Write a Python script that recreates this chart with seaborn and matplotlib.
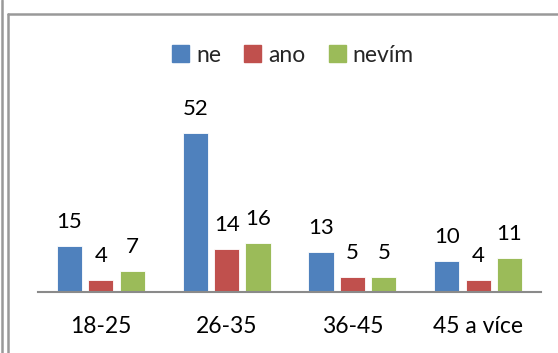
import matplotlib
matplotlib.use("Agg")
import matplotlib.pyplot as plt
from matplotlib.lines import Line2D
import seaborn as sns
import pandas as pd

categories = ["18-25", "26-35", "36-45", "45 a více"]
series = ["ne", "ano", "nevím"]
ne = [15, 52, 13, 10]
ano = [4, 14, 5, 4]
nevim = [7, 16, 5, 11]
colors = ["#4F81BD", "#C0504D", "#9BBB59"]

df = pd.DataFrame({
    "kategorie": categories * 3,
    "odpoved": [s for s in series for _ in categories],
    "pocet": ne + ano + nevim,
})

sns.set_theme(style="white")
plt.rcParams["font.family"] = ["Lato", "DejaVu Sans"]

W, H = 558, 353
fig = plt.figure(figsize=(W / 100, H / 100), dpi=100)
ax = fig.add_axes([38 / W, 61 / H, (541 - 38) / W, (292 - 108) / H])

sns.barplot(data=df, x="kategorie", y="pocet", hue="odpoved",
            palette=colors, saturation=1, width=0.75, gap=0.2, dodge=True,
            edgecolor="white", linewidth=0.6, ax=ax, legend=False)

ax.set_ylim(0, 60)
ax.set_xlim(-0.5, 3.5)
for cont in ax.containers:
    ax.bar_label(cont, fmt="%d", padding=10, fontsize=16, color="black")

ax.set_xlabel("")
ax.set_ylabel("")
ax.set_yticks([])
ax.tick_params(axis="x", length=0, pad=17, labelsize=16.5, labelcolor="black")
for side in ["top", "left", "right"]:
    ax.spines[side].set_visible(False)
ax.spines["bottom"].set_color("#8a8a8a")
ax.spines["bottom"].set_linewidth(1.5)

handles = [plt.Rectangle((0, 0), 1, 1, color=c) for c in colors]
fig.legend(handles, series, loc="center", bbox_to_anchor=(293 / W, 1 - 55 / H),
           ncol=3, frameon=False, fontsize=16.5, handlelength=0.75,
           handleheight=0.75, handletextpad=0.3, columnspacing=1.0)

# frame lines around the chart area
gray = "#999999"
fig.add_artist(Line2D([1.5 / W, 1.5 / W], [0, 1], transform=fig.transFigure,
                      color=gray, lw=1.8))
fig.add_artist(Line2D([8.3 / W, 8.3 / W], [0, 1 - 14.3 / H], transform=fig.transFigure,
                      color=gray, lw=1.8))
fig.add_artist(Line2D([8.3 / W, 1], [1 - 14.3 / H, 1 - 14.3 / H], transform=fig.transFigure,
                      color=gray, lw=1.8))

fig.savefig("out.png", dpi=100)
